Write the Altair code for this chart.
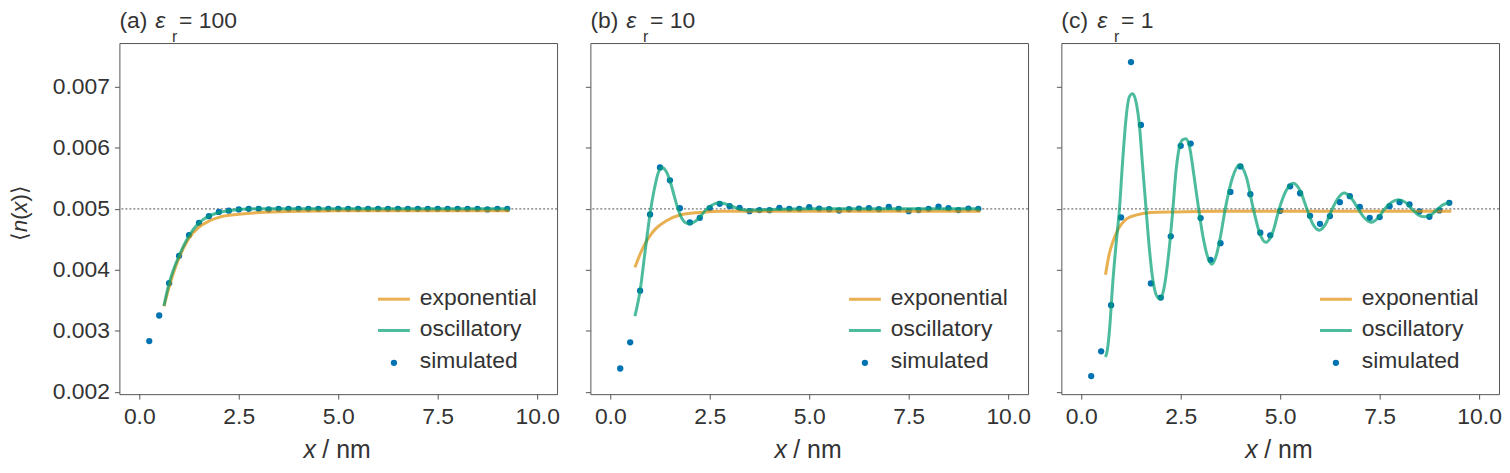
import altair as alt
import pandas as pd

# ---------------- data ----------------
X_SIM = [0.25, 0.5, 0.75, 1.0, 1.25, 1.5, 1.75, 2.0, 2.25, 2.5, 2.75, 3.0, 3.25,
         3.5, 3.75, 4.0, 4.25, 4.5, 4.75, 5.0, 5.25, 5.5, 5.75, 6.0, 6.25, 6.5,
         6.75, 7.0, 7.25, 7.5, 7.75, 8.0, 8.25, 8.5, 8.75, 9.0, 9.25]

SIM_A = [0.00283, 0.00325, 0.00378, 0.00423, 0.00457, 0.00477, 0.00488, 0.00495,
         0.00497, 0.00499, 0.00500, 0.00500, 0.00499, 0.00500, 0.00500, 0.00500,
         0.00500, 0.00500, 0.00500, 0.00500, 0.00500, 0.00500, 0.00500, 0.00500,
         0.00500, 0.00500, 0.00500, 0.00500, 0.00500, 0.00500, 0.00500, 0.00500,
         0.00500, 0.00500, 0.00499, 0.00500, 0.00500]

SIM_B = [0.002381, 0.00281, 0.003658, 0.004909, 0.00568, 0.005468, 0.005011,
         0.004778, 0.004853, 0.005011, 0.005082, 0.005044, 0.005016, 0.004962,
         0.00498, 0.004978, 0.005016, 0.005, 0.005, 0.005027, 0.005005, 0.004995,
         0.004973, 0.004995, 0.005005, 0.005011, 0.004995, 0.005033, 0.005,
         0.004962, 0.00498, 0.005, 0.005038, 0.005011, 0.00498, 0.005005, 0.005]

SIM_C = [0.002256, 0.002663, 0.003419, 0.00486, 0.007408, 0.006376, 0.003777,
         0.003544, 0.00455, 0.006034, 0.006071, 0.004848, 0.004164, 0.004436,
         0.005277, 0.005696, 0.00524, 0.004609, 0.004566, 0.004967, 0.00537,
         0.005256, 0.004886, 0.004755, 0.004881, 0.005109, 0.005207, 0.005033,
         0.004853, 0.004865, 0.005044, 0.005109, 0.005072, 0.004958, 0.00487,
         0.004974, 0.005098]

EXP_A_X = [0.62, 0.75, 0.875, 1.0, 1.25, 1.5, 1.75, 2.0, 2.5, 3.0, 4.0, 5.0, 9.3]
EXP_A_Y = [0.00340, 0.00372, 0.00398, 0.00420, 0.00452, 0.00470, 0.00480, 0.00486,
           0.00491, 0.00494, 0.00496, 0.00497, 0.00497]
OSC_A_X = [0.62, 0.75, 0.875, 1.0, 1.25, 1.5, 1.75, 2.0, 2.25, 2.5, 3.0, 9.3]
OSC_A_Y = [0.00341, 0.00378, 0.00403, 0.00423, 0.00456, 0.00477, 0.00488, 0.00494,
           0.00497, 0.00499, 0.00500, 0.00500]

EXP_B_X = [0.62, 0.82, 1.0, 1.15, 1.4, 1.75, 2.25, 2.8, 4.0, 9.3]
EXP_B_Y = [0.00404, 0.00436, 0.00456, 0.00468, 0.00480, 0.00490, 0.00494, 0.00496,
           0.00496, 0.00496]
OSC_B_X = [0.62, 0.75, 0.875, 1.0, 1.1, 1.2, 1.3, 1.4, 1.5, 1.6, 1.7, 1.8, 1.9, 2.0,
           2.1, 2.25, 2.4, 2.55, 2.73, 2.9, 3.1, 3.3, 3.5, 4.0, 5.0, 9.3]
OSC_B_Y = [0.00324, 0.00366, 0.00430, 0.00492, 0.00530, 0.00558, 0.00568, 0.00562,
           0.00546, 0.00523, 0.00500, 0.00484, 0.00477, 0.00476, 0.00478, 0.00486,
           0.00498, 0.00506, 0.00510, 0.00508, 0.00503, 0.00499, 0.00498, 0.00499,
           0.00500, 0.00500]

EXP_C_X = [0.61, 0.7, 0.8, 0.9, 1.0, 1.15, 1.4, 1.75, 2.3, 3.5, 9.3]
EXP_C_Y = [0.00392, 0.00425, 0.00447, 0.00463, 0.00474, 0.00484, 0.00490, 0.00494,
           0.00495, 0.00496, 0.00496]
OSC_C_X = [0.61, 0.66, 0.71, 0.79, 0.875, 0.96, 1.04, 1.125, 1.21, 1.29, 1.375, 1.46,
           1.54, 1.625, 1.71, 1.79, 1.89, 1.98, 2.08, 2.2, 2.3, 2.38, 2.46, 2.54,
           2.625, 2.72, 2.83, 2.95, 3.05, 3.16, 3.28, 3.4, 3.5, 3.62, 3.8, 3.975,
           4.15, 4.325, 4.48, 4.64, 4.81, 4.975, 5.15, 5.33, 5.5, 5.67, 5.82, 5.98,
           6.14, 6.31, 6.46, 6.61, 6.78, 6.96, 7.12, 7.29, 7.46, 7.625, 7.8, 7.975,
           8.14, 8.31, 8.47, 8.625, 8.79, 8.96, 9.1, 9.28]
OSC_C_Y = [0.00257, 0.00270, 0.00301, 0.00377, 0.00442, 0.00500, 0.00578, 0.00648,
           0.00684, 0.00689, 0.00676, 0.00638, 0.00572, 0.00503, 0.00436, 0.00388,
           0.00358, 0.00352, 0.00370, 0.00428, 0.00497, 0.00561, 0.00599, 0.00613,
           0.00615, 0.00602, 0.00556, 0.00500, 0.00458, 0.00425, 0.00409, 0.00425,
           0.00455, 0.00500, 0.00551, 0.00572, 0.00552, 0.00500, 0.00461, 0.00445,
           0.00461, 0.00500, 0.00530, 0.00542, 0.00530, 0.00500, 0.00475, 0.00465,
           0.00475, 0.00500, 0.00518, 0.00526, 0.00518, 0.00500, 0.00485, 0.00478,
           0.00485, 0.00500, 0.00511, 0.00515, 0.00511, 0.00500, 0.00490, 0.00487,
           0.00490, 0.00500, 0.00507, 0.00510]

BULK = 0.005
PANEL_LABELS = ["(a)", "(b)", "(c)"]
EPS_VALUES = ["100", "10", "1"]
LEGEND_NAMES = ["exponential", "oscillatory", "simulated"]
X_TICKS = [0, 2.5, 5, 7.5, 10]
Y_TICKS = [0.002, 0.003, 0.004, 0.005, 0.006, 0.007]
X_DOMAIN = [-0.5, 10.5]
Y_DOMAIN = [0.00196, 0.00772]

# ---------------- styling ----------------
BLUE = "#0173B2"
ORANGE = "#DE8F05"
GREEN = "#029E73"
TEXT = "#333333"
FRAME = "#555555"
FONT = "Liberation Sans"
W, H = 440, 353
FS = 23
TITLE_Y = -15.2


def label(text, x, y, size=FS, style="normal", align="left",
          baseline="alphabetic", angle=0):
    return alt.Chart(alt.Data(values=[{}])).mark_text(
        text=text, font=FONT, fontSize=size, fontStyle=style, align=align,
        baseline=baseline, angle=angle, color=TEXT
    ).encode(x=alt.value(x), y=alt.value(y))


def panel(i, sim, ex_x, ex_y, os_x, os_y, show_y):
    xs = alt.Scale(domain=X_DOMAIN, nice=False, zero=False)
    ys = alt.Scale(domain=Y_DOMAIN, nice=False, zero=False)
    xax = alt.Axis(values=X_TICKS, format=".1f", title=None, labelPadding=7)
    yax = alt.Axis(values=Y_TICKS, format=".3f", title=None, labels=show_y,
                   labelPadding=5)
    X = lambda f: alt.X(f, type="quantitative", scale=xs, axis=xax)
    Y = lambda f: alt.Y(f, type="quantitative", scale=ys, axis=yax)

    rule = alt.Chart(pd.DataFrame({"n": [BULK]})).mark_rule(
        color="#777777", strokeDash=[2, 2], strokeWidth=1.2
    ).encode(y=Y("n"))
    pts = alt.Chart(pd.DataFrame({"x": X_SIM, "n": sim})).mark_circle(
        size=40, color=BLUE, opacity=1
    ).encode(x=X("x"), y=Y("n"))
    exp_line = alt.Chart(pd.DataFrame({"x": ex_x, "n": ex_y})).mark_line(
        color=ORANGE, strokeWidth=3, opacity=0.7, interpolate="monotone"
    ).encode(x=X("x"), y=Y("n"))
    osc_line = alt.Chart(pd.DataFrame({"x": os_x, "n": os_y})).mark_line(
        color=GREEN, strokeWidth=3, opacity=0.7, interpolate="monotone"
    ).encode(x=X("x"), y=Y("n"))

    layers = [rule, pts, exp_line, osc_line]

    # legend (inside, lower right)
    rows = [257.5, 289, 321.5]
    for name, col, ry in zip(LEGEND_NAMES[:2], [ORANGE, GREEN], rows[:2]):
        layers.append(alt.Chart(alt.Data(values=[{}])).mark_rule(
            color=col, strokeWidth=3, opacity=0.7
        ).encode(x=alt.value(260), x2=alt.value(292), y=alt.value(ry)))
    layers.append(alt.Chart(alt.Data(values=[{}])).mark_circle(
        size=40, color=BLUE, opacity=1
    ).encode(x=alt.value(276), y=alt.value(rows[2])))
    for name, ry in zip(LEGEND_NAMES, rows):
        layers.append(label(name, 302, ry - 1.5, baseline="middle"))

    # panel title
    layers.append(label(PANEL_LABELS[i], 0, TITLE_Y))
    layers.append(label("ε", 36, TITLE_Y, style="italic"))
    layers.append(label("r", 53, -1, size=16))
    layers.append(label("= " + EPS_VALUES[i], 60, TITLE_Y))

    # x axis title
    layers.append(label("x", 185, 417.5, size=25, style="italic"))
    layers.append(label("/ nm", 204, 417.5, size=25))

    if show_y:
        parts = [("⟨", "normal", 0.39), ("n", "italic", 0.556), ("(", "normal", 0.333),
                 ("x", "italic", 0.5), (")", "normal", 0.333), ("⟩", "normal", 0.39)]
        size = 22
        total = sum(p[2] for p in parts) * size
        y0 = 171 + total / 2
        for txt, st, wd in parts:
            layers.append(label(txt, -99.6, y0, size=size, style=st, align="left",
                                baseline="middle", angle=270))
            y0 -= wd * size

    return alt.layer(*layers).properties(width=W, height=H)


pa = panel(0, SIM_A, EXP_A_X, EXP_A_Y, OSC_A_X, OSC_A_Y, True)
pb = panel(1, SIM_B, EXP_B_X, EXP_B_Y, OSC_B_X, OSC_B_Y, False)
pc = panel(2, SIM_C, EXP_C_X, EXP_C_Y, OSC_C_X, OSC_C_Y, False)

chart = alt.hconcat(pa, pb, pc, spacing=33.5, bounds="flush").properties(
    padding={"left": 0, "top": 0, "right": 0, "bottom": 0}
).configure_view(
    stroke=FRAME, strokeWidth=1
).configure_axis(
    domain=False, grid=False, tickColor=FRAME, tickWidth=1, tickSize=5,
    labelFont=FONT, labelFontSize=FS, labelColor=TEXT
)

chart.save("out.html", embed_options={"renderer": "svg", "actions": False})
